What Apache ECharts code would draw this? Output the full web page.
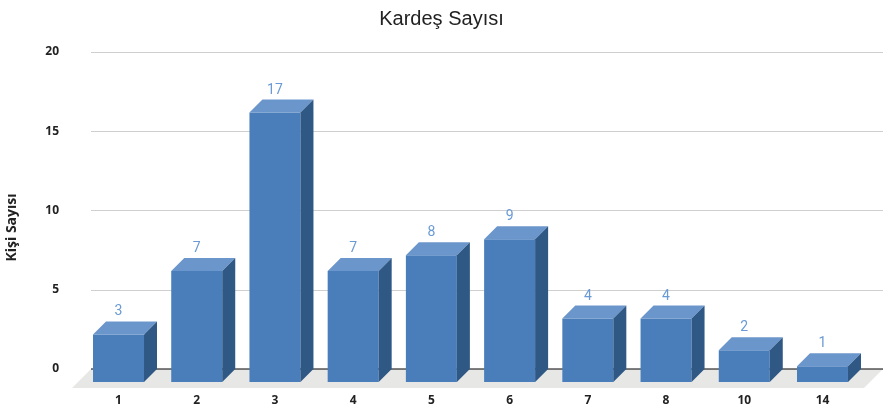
<!DOCTYPE html>
<html>
<head>
<meta charset="utf-8">
<script src="https://cdn.jsdelivr.net/npm/echarts@6/dist/echarts.min.js"></script>
<style>html,body{margin:0;padding:0;background:#fff}#c{width:883px;height:414px}</style>
</head>
<body>
<div id="c"></div>
<script>
const titleText = 'Kardeş Sayısı';
const yAxisTitle = 'Kişi Sayısı';
const categories = ['1','2','3','4','5','6','7','8','10','14'];
const values = [3,7,17,7,8,9,4,4,2,1];
const yMin = 0, yMax = 20, yStep = 5;

const DEPTH = 13, FLOOR = 19, HALF = 25.5;
const cFront = '#4a7ebb', cTop = '#6b96cb', cSide = '#2f5885', cLabel = '#6a9ad3';
const tickFont = '"Open Sans", sans-serif';

const chart = echarts.init(document.getElementById('c'));
chart.setOption({
  animation: false,
  title: {text: titleText, left: 'center', top: 4,
    textStyle: {fontFamily: 'Liberation Sans, Arial', fontSize: 20, fontWeight: 'normal', color: '#222'}},
  graphic: [{type: 'text', x: 12, y: 227.5, rotation: Math.PI/2,
    style: {text: yAxisTitle, font: 'bold 14px "Open Sans"', fill: '#222', textAlign: 'center', textVerticalAlign: 'middle'}}],
  grid: [
    {left: 91, right: 0, top: 52, bottom: 45},
    {left: 92.4, right: 8.4, top: 52, bottom: 45}
  ],
  xAxis: [
    {type: 'value', gridIndex: 0, min: 0, max: 1, show: false},
    {type: 'category', gridIndex: 1, data: categories,
      axisLine: {show: false}, axisTick: {show: false},
      axisLabel: {margin: 26, padding: [0, 26, 0, 0], fontFamily: tickFont, fontWeight: 'bold', fontSize: 12, color: '#222'}}
  ],
  yAxis: [
    {type: 'value', gridIndex: 0, min: yMin, max: yMax, interval: yStep,
      axisLine: {show: false}, axisTick: {show: false},
      axisLabel: {margin: 32, fontFamily: tickFont, fontWeight: 'bold', fontSize: 12, color: '#222'},
      splitLine: {lineStyle: {color: '#cfcfcf'}}},
    {type: 'value', gridIndex: 1, min: yMin, max: yMax, interval: yStep, show: false, splitLine: {show: false}}
  ],
  series: [
    {
      type: 'custom', xAxisIndex: 0, yAxisIndex: 0, z: 1, silent: true,
      data: [[0, 0]],
      renderItem: function (params, api) {
        const cs = params.coordSys;
        const y0 = api.coord([0, 0])[1];
        const x1 = cs.x, x2 = cs.x + cs.width;
        return {type: 'group', children: [
          {type: 'polygon', shape: {points: [[x1, y0], [x2, y0], [x2 - FLOOR, y0 + FLOOR], [x1 - FLOOR, y0 + FLOOR]]},
            style: {fill: '#e7e8e6'}},
          {type: 'line', shape: {x1: x1, y1: y0, x2: x2, y2: y0}, style: {stroke: '#000', lineWidth: 1}}
        ]};
      }
    },
    {
      type: 'custom', xAxisIndex: 1, yAxisIndex: 1, z: 3,
      data: values.map((v, i) => [i, v]),
      encode: {x: 0, y: 1},
      renderItem: function (params, api) {
        const i = api.value(0), v = api.value(1);
        const top = api.coord([i, v]);
        const base = api.coord([i, 0]);
        const c = top[0], ty = top[1], by = base[1];
        const fl = c - HALF - DEPTH, fr = c + HALF - DEPTH;
        return {type: 'group', children: [
          {type: 'rect', shape: {x: fl, y: ty + DEPTH, width: fr - fl, height: by - ty}, style: {fill: cFront}},
          {type: 'polygon', shape: {points: [[fl, ty + DEPTH], [fr, ty + DEPTH], [c + HALF, ty], [c - HALF, ty]]}, style: {fill: cTop}},
          {type: 'polygon', shape: {points: [[fr, ty + DEPTH], [c + HALF, ty], [c + HALF, by], [fr, by + DEPTH]]}, style: {fill: cSide}},
          {type: 'text', x: c - DEPTH, y: ty - 9.5,
            style: {text: String(v), font: '14px Roboto', fill: cLabel, textAlign: 'center', textVerticalAlign: 'middle'}}
        ]};
      }
    }
  ]
});
</script>
</body>
</html>
